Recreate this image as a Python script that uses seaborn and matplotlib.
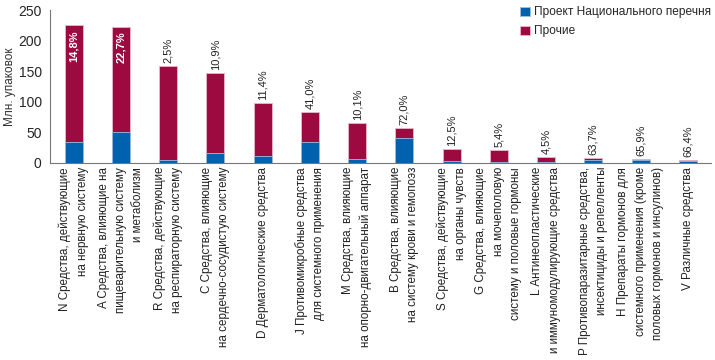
import numpy as np
import pandas as pd
import matplotlib
matplotlib.use("Agg")
import matplotlib.pyplot as plt
import seaborn as sns

# data
codes = ["N", "A", "R", "C", "D", "J", "M", "B", "S", "G", "L", "P", "H", "V"]
labels = [
    "N Средства, действующие\nна нервную систему",
    "A Средства, влияющие на\nпищеварительную систему\nи метаболизм",
    "R Средства, действующие\nна респираторную систему",
    "C Средства, влияющие\nна сердечно-сосудистую систему",
    "D Дерматологические средства",
    "J Противомикробные средства\nдля системного применения",
    "M Средства, влияющие\nна опорно-двигательный аппарат",
    "B Средства, влияющие\nна систему крови и гемопоэз",
    "S Средства, действующие\nна органы чувств",
    "G Средства, влияющие\nна мочеполовую\nсистему и половые гормоны",
    "L Антинеопластические\nи иммуномодулирующие средства",
    "P Противопаразитарные средства,\nинсектициды и репелленты",
    "H Препараты гормонов для\nсистемного применения (кроме\nполовых гормонов и инсулинов)",
    "V Различные средства",
]
total = [225, 223, 159, 147, 98, 82.5, 65, 57, 22, 21, 9, 7.2, 6.2, 4]
national = [33.3, 50.6, 4, 16, 11.2, 33.8, 6.6, 41, 2.8, 1.1, 0.4, 4.6, 4.1, 2.7]
share = ["14,8%", "22,7%", "2,5%", "10,9%", "11,4%", "41,0%", "10,1%", "72,0%",
         "12,5%", "5,4%", "4,5%", "63,7%", "65,9%", "66,4%"]

blue = "#0062ae"
crimson = "#9c0a40"

sns.set_style("white")
plt.rcParams["font.family"] = ["Liberation Sans", "DejaVu Sans"]

df = pd.DataFrame({"code": codes, "total": total, "national": national})

fig, ax = plt.subplots(figsize=(7.15, 3.6), dpi=100)
fig.subplots_adjust(left=0.07, right=0.995, top=0.972, bottom=0.548)

sns.barplot(data=df, x="code", y="total", order=codes, color=crimson,
            width=0.38, saturation=1, edgecolor="#e8b8c8", linewidth=0.6,
            label="Прочие", ax=ax)
sns.barplot(data=df, x="code", y="national", order=codes, color=blue,
            width=0.38, saturation=1, edgecolor="#9cc0e0", linewidth=0.6,
            label="Проект Национального перечня", ax=ax)

# share labels
for i, (t, s) in enumerate(zip(total, share)):
    if i < 2:
        ax.text(i, t - 8, s, rotation=90, ha="center", va="top",
                fontsize=8, color="white", fontweight="bold")
    else:
        ax.text(i, t + 5, s, rotation=90, ha="center", va="bottom",
                fontsize=8, color="#222222")

ax.set_xlim(-0.5, len(codes) - 0.5)
ax.set_ylim(0, 250)
ax.set_yticks(range(0, 251, 50))
ax.set_xticks(range(len(codes)))
ax.set_xticklabels(labels, rotation=90, ha="center", va="top",
                   multialignment="right", fontsize=8.4, linespacing=1.6,
                   color="#222222")
ax.set_xticks(np.arange(-0.5, len(codes)), minor=True)
ax.tick_params(axis="x", which="major", length=0, pad=3)
ax.tick_params(axis="x", which="minor", length=4, width=0.8, color="#777777",
               direction="out")
ax.tick_params(axis="y", length=4, width=0.8, color="#777777", direction="out",
               labelsize=10, pad=2)
ax.set_xlabel("")
ax.set_ylabel("Млн. упаковок", fontsize=8.5, color="#333333")
ax.yaxis.set_label_coords(-0.052, 0.5)

sns.despine(ax=ax)
for side in ["left", "bottom"]:
    ax.spines[side].set_color("#777777")
    ax.spines[side].set_linewidth(0.8)

handles, lbls = ax.get_legend_handles_labels()
order = [lbls.index("Проект Национального перечня"), lbls.index("Прочие")]
ax.legend([handles[k] for k in order], [lbls[k] for k in order],
          loc="upper right", bbox_to_anchor=(1.015, 1.095), frameon=False,
          fontsize=8.6, handlelength=0.8, handleheight=0.8, handletextpad=0.3,
          labelspacing=0.6)

fig.savefig("out.png", dpi=100)
